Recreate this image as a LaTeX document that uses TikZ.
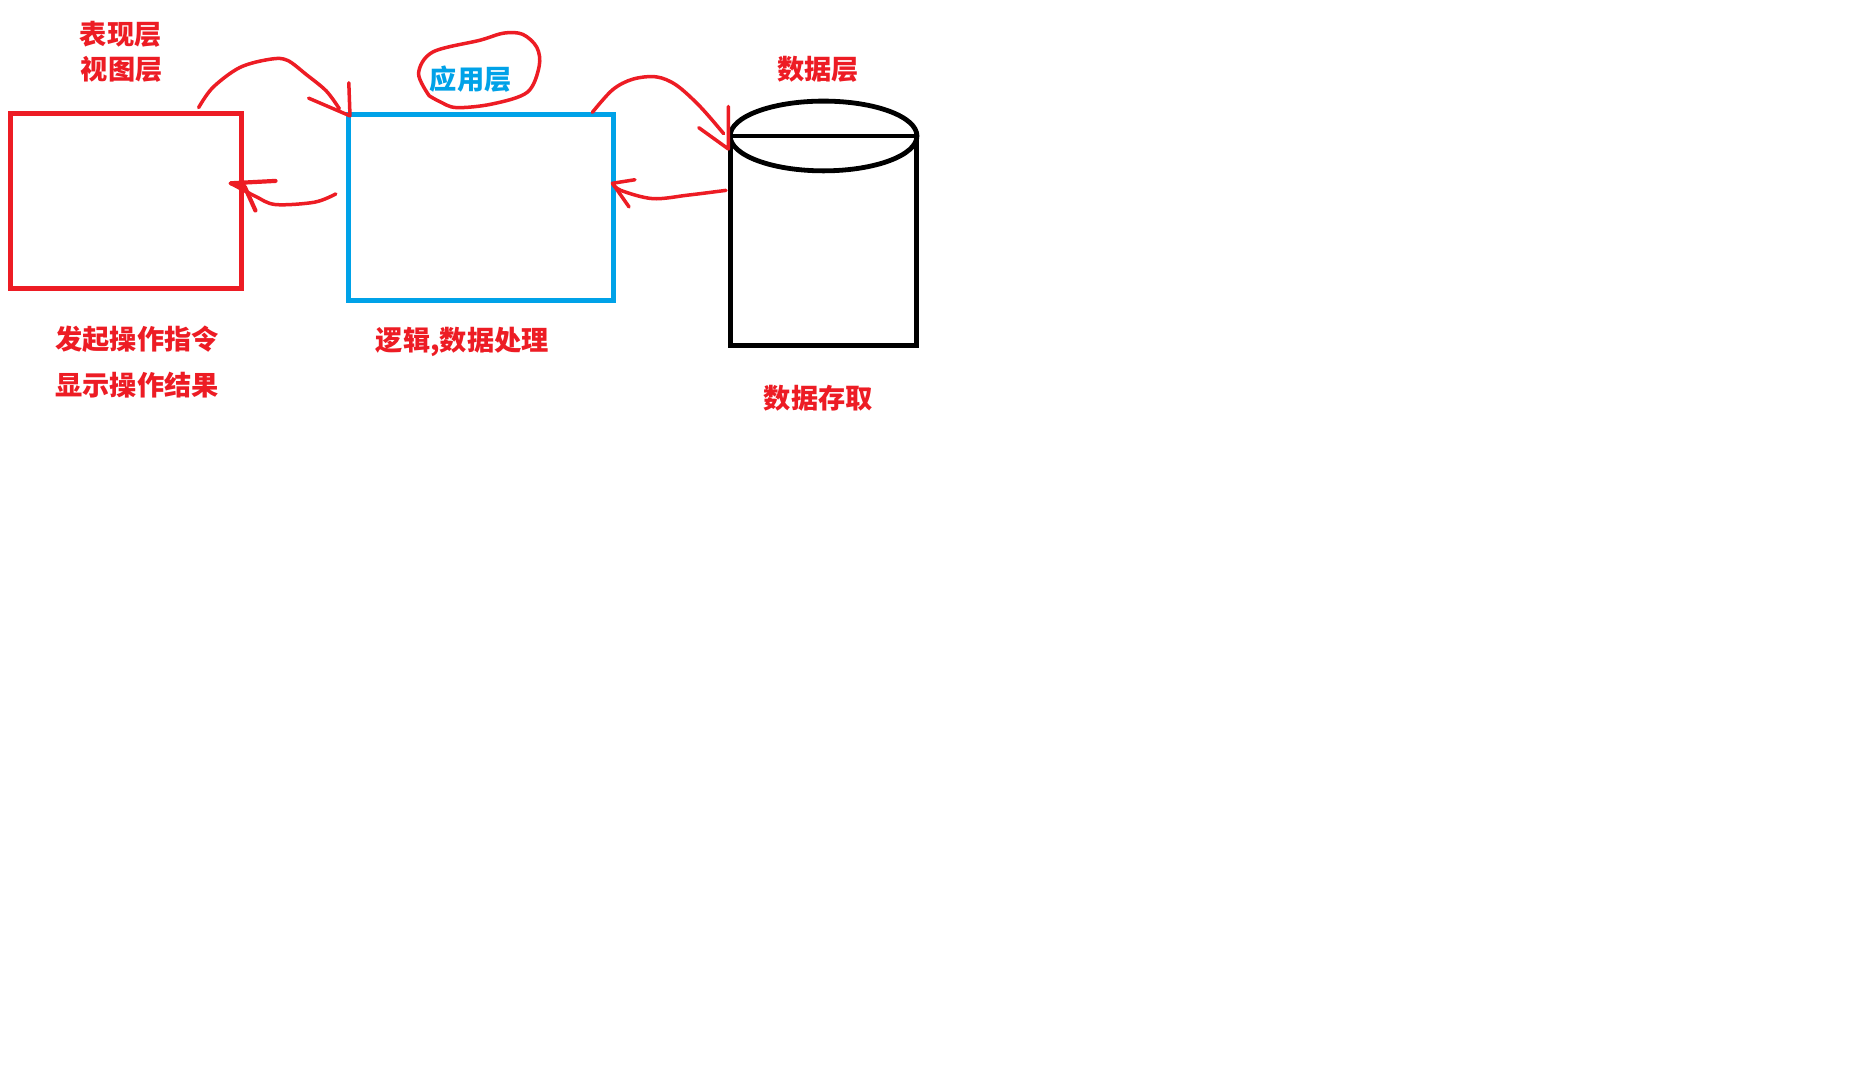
\documentclass[tikz,border=0pt]{standalone}
\usepackage{fontspec}
\newfontfamily\cjk{Noto Sans CJK SC}
\definecolor{inkred}{HTML}{ED1C24}
\definecolor{inkblue}{HTML}{00A2E8}
\tikzset{
  x=1.18240pt,y=-1.18240pt,
  boxshape/.style={rectangle,draw,line width=4.8pt,inner sep=0pt},
  stroke/.style={inkred,line width=3.5pt,line cap=round,line join=round},
  heavy/.style={inkred,line width=4.2pt,line cap=round,line join=round},
  bk/.style={black,line width=4.8pt,line join=miter},
  lab/.style={font=\cjk\bfseries\fontsize{27.2}{27.2}\selectfont,text=inkred,inner sep=0pt},
  blab/.style={lab,text=inkblue}
}
\begin{document}
\begin{tikzpicture}
\useasboundingbox (0,0) rectangle (1568,921.8);
\fill[white] (0,0) rectangle (1568,921.8);
% boxes
\node[boxshape,draw=inkred,minimum width=230.6pt,minimum height=175pt] (view) at (106.5,170) {};
\node[boxshape,draw=inkblue,minimum width=264.9pt,minimum height=185.6pt] (app) at (407,175.5) {};
% cylinder
\coordinate (dbtl) at (618,115);
\coordinate (dbtr) at (775,115);
\coordinate (dbbl) at (618,292);
\coordinate (dbbr) at (775,292);
\draw[bk] (dbtl) -- (dbbl) -- (dbbr) -- (dbtr);
\draw[bk] (696.5,115) ellipse [x radius=79,y radius=29.5];
\draw[bk] (dbtl) -- (dbtr);
% free ends of the strokes
\coordinate (c1s) at (168,91);
\coordinate (c1e) at (287,92);
\coordinate (c1t) at (295,70);
\coordinate (c1h) at (296,98);
\coordinate (c1b) at (261,83);
\coordinate (c2s) at (284,164);
\coordinate (c2h) at (195,155);
\coordinate (c2t) at (233,153);
\coordinate (c2b) at (216,178);
\coordinate (c3s) at (501,95);
\coordinate (c3e) at (612,113);
\coordinate (c3t) at (616,90);
\coordinate (c3h) at (616,126);
\coordinate (c3b) at (591,108);
\coordinate (c4s) at (614,161);
\coordinate (c4h) at (518,155);
\coordinate (c4t) at (537,152);
\coordinate (c4b) at (532,175);
% strokes
\draw[stroke] plot[smooth,tension=.55] coordinates {(c1s) (180,74) (203,57) (229,50) (243,51) (259,63) (276,77) (c1e)};
\draw[stroke] (c1t) -- (c1h) -- (c1b);
\draw[stroke] plot[smooth,tension=.55] coordinates {(c2s) (266,171) (233,173) (216,166) (c2h)};
\draw[heavy] (c2t) -- (c2h) -- (207,158) -- (c2b);
\draw[stroke] plot[smooth,tension=.55] coordinates {(c3s) (518,76) (535,67) (555,65) (572,72) (592,90) (c3e)};
\draw[stroke] (c3t) -- (c3h) -- (c3b);
\draw[stroke] plot[smooth,tension=.55] coordinates {(c4s) (582,165) (552,168) (525,161) (c4h)};
\draw[stroke] (c4t) -- (c4h) -- (c4b);
% blob round the label
\coordinate (blob) at (363,81);
\draw[stroke] plot[smooth,tension=.55] coordinates {(blob) (354,62) (366,44) (406,34) (426,28) (442,29) (454,40) (456,56) (446,78) (416,88) (386,91) (372,86) (blob)};
% labels
\node[lab] (t1) at (102,29) {表现层};
\node[lab] (t2) at (103,59) {视图层};
\node[blab] (t3) at (398,67) {应用层};
\node[lab] (t4) at (692,59) {数据层};
\node[lab] (t5) at (116,287) {发起操作指令};
\node[lab] (t6) at (116,326) {显示操作结果};
\node[lab] (t7) at (391,289) {逻辑,数据处理};
\node[lab] (t8) at (692,337) {数据存取};
\end{tikzpicture}
\end{document}
